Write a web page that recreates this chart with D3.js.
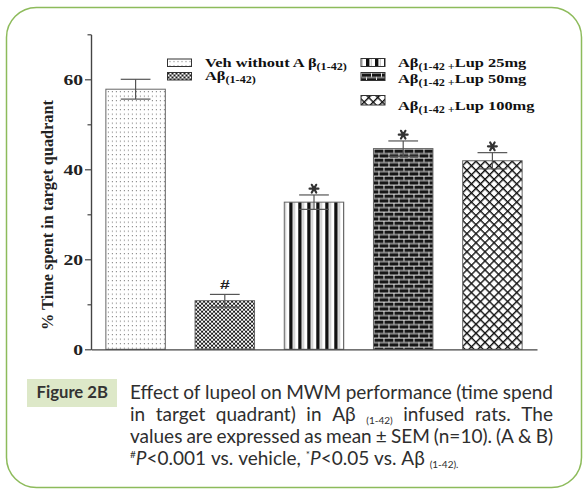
<!DOCTYPE html>
<html><head><meta charset="utf-8">
<script src="https://cdn.jsdelivr.net/npm/d3@7"></script>
<style>body{margin:0;background:#fff}svg{display:block}</style>
</head><body><svg id="c" width="588" height="491"></svg>
<script>
// ---- data ----
const categories = ["Veh without Aβ(1-42)", "Aβ(1-42)", "Aβ(1-42)+Lup 25mg", "Aβ(1-42)+Lup 50mg", "Aβ(1-42)+Lup 100mg"];
const means = [57.8, 10.8, 32.7, 44.6, 41.9];
const sems = [2.2, 1.4, 1.6, 1.7, 1.8];
const sigMarks = ["", "#", "*", "*", "*"];
const majorTicks = [0, 20, 40, 60];
const minorTicks = [10, 30, 50, 70];
const patternTypes = ["dots", "checker", "stripes", "brick", "diamond"];
const legendMain = ["Veh without A\u2009β", "Aβ", "Aβ", "Aβ", "Aβ"];
const legendSub = ["(1-42)", "(1-42)", "(1-42 +", "(1-42 +", "(1-42 +"];
const legendTail = ["", "", "Lup 25mg", "Lup 50mg", "Lup 100mg"];
const yTitle = "% Time spent in target quadrant";
const figLabel = "Figure 2B";
const captionLines = [
  "Effect of lupeol on MWM performance (time spend",
  "in target quadrant) in Aβ _(1-42)_ infused rats. The",
  "values are expressed as mean ± SEM (n=10). (A & B)",
  "^#^~P~<0.001 vs. vehicle, ^*^~P~<0.05 vs. Aβ _(1-42)._"
];
const captionJustify = [true, true, true, false];

// ---- layout ----
const svg = d3.select("#c");
const defs = svg.append("defs");
const serif = "'Liberation Serif','Times New Roman',serif";
const sans = "Lato,'Open Sans',sans-serif";

svg.append("rect").attr("x", 6.5).attr("y", 7.5).attr("width", 575).attr("height", 480)
  .attr("rx", 30).attr("fill", "#fff").attr("stroke", "#8dbb5b").attr("stroke-width", 1.5);

function makePattern(id, type, ox, oy) {
  const p = defs.append("pattern").attr("id", id).attr("patternUnits", "userSpaceOnUse");
  if (type === "dots") {
    p.attr("x", ox + 1).attr("y", oy + 1).attr("width", 4).attr("height", 4.5);
    p.append("rect").attr("width", 4).attr("height", 4.5).attr("fill", "#fff");
    p.append("rect").attr("x", 1).attr("y", 1).attr("width", 1).attr("height", 1).attr("fill", "#6a6a6a");
  } else if (type === "checker") {
    p.attr("x", ox).attr("y", oy).attr("width", 4).attr("height", 4);
    p.append("rect").attr("width", 4).attr("height", 4).attr("fill", "#fff");
    p.append("rect").attr("width", 2).attr("height", 2).attr("fill", "#1a1a1a");
    p.append("rect").attr("x", 2).attr("y", 2).attr("width", 2).attr("height", 2).attr("fill", "#1a1a1a");
  } else if (type === "stripes") {
    p.attr("x", ox).attr("y", oy).attr("width", 9).attr("height", 10);
    p.append("rect").attr("width", 9).attr("height", 10).attr("fill", "#fff");
    p.append("rect").attr("x", 5).attr("width", 3.4).attr("height", 10).attr("fill", "#111");
    p.append("rect").attr("x", 0.8).attr("width", 0.8).attr("height", 10).attr("fill", "#aaa");
  } else if (type === "brick") {
    p.attr("x", ox).attr("y", oy).attr("width", 10).attr("height", 9);
    p.append("rect").attr("width", 10).attr("height", 9).attr("fill", "#161616");
    p.append("rect").attr("y", 0).attr("width", 10).attr("height", 1).attr("fill", "#e6e6e6");
    p.append("rect").attr("y", 4.5).attr("width", 10).attr("height", 1).attr("fill", "#e6e6e6");
    p.append("rect").attr("x", 0).attr("y", 0).attr("width", 1).attr("height", 4.5).attr("fill", "#e6e6e6");
    p.append("rect").attr("x", 5).attr("y", 4.5).attr("width", 1).attr("height", 4.5).attr("fill", "#e6e6e6");
  } else if (type === "diamond") {
    p.attr("x", ox).attr("y", oy).attr("width", 6.4).attr("height", 6.4)
      .attr("patternTransform", "rotate(45)");
    p.append("rect").attr("width", 6.4).attr("height", 6.4).attr("fill", "#fff");
    p.append("rect").attr("width", 1.4).attr("height", 6.4).attr("fill", "#111");
    p.append("rect").attr("width", 6.4).attr("height", 1.4).attr("fill", "#111");
  }
}

const x = d3.scaleBand().domain(categories).range([91, 537]).paddingInner(1 / 3).paddingOuter(1 / 6);
const y = d3.scaleLinear().domain([0, 70]).range([349.3, 34.3]);
const axisColor = "#444";

// bars
categories.forEach((c, i) => makePattern("pb" + i, patternTypes[i], x(c), y(means[i])));
svg.append("g").selectAll("rect").data(categories).join("rect")
  .attr("x", d => x(d)).attr("y", (d, i) => y(means[i]))
  .attr("width", x.bandwidth()).attr("height", (d, i) => y(0) - y(means[i]))
  .attr("fill", (d, i) => `url(#pb${i})`).attr("stroke", "#666").attr("stroke-width", 1);

// error bars
const eb = svg.append("g").attr("stroke", "#555").attr("stroke-width", 1.2).attr("fill", "none");
categories.forEach((c, i) => {
  const cx = x(c) + x.bandwidth() / 2, hw = x.bandwidth() / 4;
  const top = y(means[i] + sems[i]), bot = y(means[i] - sems[i]);
  eb.append("line").attr("x1", cx).attr("x2", cx).attr("y1", top).attr("y2", bot);
  eb.append("line").attr("x1", cx - hw).attr("x2", cx + hw).attr("y1", top).attr("y2", top);
  eb.append("line").attr("x1", cx - hw).attr("x2", cx + hw).attr("y1", bot).attr("y2", bot);
});

// significance marks
categories.forEach((c, i) => {
  const cx = x(c) + x.bandwidth() / 2;
  const top = y(means[i] + sems[i]);
  if (sigMarks[i] === "*") {
    svg.append("path").attr("d", d3.symbol(d3.symbolAsterisk, 55)())
      .attr("transform", `translate(${cx},${top - 6.3}) rotate(90)`)
      .attr("stroke", "#333").attr("stroke-width", 2.2).attr("stroke-linecap", "round").attr("fill", "none");
  } else if (sigMarks[i] === "#") {
    svg.append("text").text("#").attr("text-anchor", "middle")
      .attr("transform", `translate(${cx},${top - 5}) scale(1.35,1)`)
      .attr("font-family", "'Liberation Sans',Arial,sans-serif").attr("font-weight", "bold")
      .attr("font-size", 13).attr("fill", "#222");
  }
});

// axes
const gMinor = svg.append("g").attr("transform", "translate(91,0)")
  .call(d3.axisLeft(y).tickValues(minorTicks).tickSize(3.5).tickSizeOuter(0).tickFormat(""));
const gMajor = svg.append("g").attr("transform", "translate(91,0)")
  .call(d3.axisLeft(y).tickValues(majorTicks).tickSize(6).tickSizeOuter(0).tickFormat(d3.format("d")));
[gMinor, gMajor].forEach(g => { g.selectAll("line,path").attr("stroke", axisColor).attr("stroke-width", 1.2); });
const tsx = 1.4;
gMajor.selectAll("text").attr("font-family", serif).attr("font-weight", "bold").attr("font-size", 14)
  .attr("fill", "#222").attr("dy", null).attr("y", 4.8).attr("x", -8 / tsx)
  .attr("transform", `scale(${tsx},1)`);
const gx = svg.append("g").attr("transform", `translate(0,${y(0)})`)
  .call(d3.axisBottom(x).tickSize(0).tickSizeOuter(0).tickFormat(""));
gx.select("path").attr("stroke", axisColor).attr("stroke-width", 1.2);

// y title
svg.append("text").text(yTitle)
  .attr("transform", "translate(52.5,215) rotate(-90)").attr("text-anchor", "middle")
  .attr("font-family", serif).attr("font-weight", "bold").attr("font-size", 16).attr("fill", "#222")
  .attr("textLength", 230).attr("lengthAdjust", "spacingAndGlyphs");

// legend
const legendBoxes = [[167.5, 59, 24, 7.5], [167.5, 72.5, 24, 7.5], [361, 58.5, 24, 8], [361, 72.5, 24, 8], [361, 95.5, 24, 9.5]];
const legendText = [[205, 66.5], [205, 79.8], [398, 66.5], [398, 83], [398, 110]];
const lg = svg.append("g");
let lsx = 1;
categories.forEach((c, i) => {
  const [bx, by, bw, bh] = legendBoxes[i];
  makePattern("pl" + i, patternTypes[i], bx, by);
  lg.append("rect").attr("x", bx).attr("y", by).attr("width", bw).attr("height", bh)
    .attr("fill", `url(#pl${i})`).attr("stroke", "#333").attr("stroke-width", 1);
  const t = lg.append("text").attr("font-family", serif).attr("font-weight", "bold")
    .attr("font-size", 13.5).attr("fill", "#111");
  t.append("tspan").text(legendMain[i]);
  t.append("tspan").text(legendSub[i]).attr("font-size", 10).attr("dy", 3);
  if (legendTail[i]) t.append("tspan").text(legendTail[i]).attr("dy", -3);
  if (i === 0) lsx = 142 / t.node().getComputedTextLength();
  t.attr("transform", `translate(${legendText[i][0]},${legendText[i][1]}) scale(${lsx},1)`);
});

// caption
svg.append("rect").attr("x", 27).attr("y", 379).attr("width", 90).attr("height", 28).attr("fill", "#dde8c8");
svg.append("text").text(figLabel).attr("x", 36.5).attr("y", 398)
  .attr("font-family", sans).attr("font-weight", "bold").attr("font-size", 17).attr("fill", "#333")
  .attr("textLength", 71.5).attr("lengthAdjust", "spacingAndGlyphs");

function parseWord(w) {
  return (w.match(/(\^[^^]*\^|_[^_]*_|~[^~]*~|[^^_~]+)/g) || []).map(tok => {
    if (tok[0] === "^") return { t: tok.slice(1, -1), s: "sup" };
    if (tok[0] === "_") return { t: tok.slice(1, -1), s: "sub" };
    if (tok[0] === "~") return { t: tok.slice(1, -1), s: "it" };
    return { t: tok, s: "n" };
  });
}
const capSize = 19, capX0 = 130, capX1 = 553, capBase = 399.3, capLead = 22;
const cg = svg.append("g").attr("font-family", sans).attr("font-size", capSize).attr("fill", "#2e2e2e");
const probe = cg.append("text").text("a a");
const probe2 = cg.append("text").text("aa");
const spaceW = probe.node().getComputedTextLength() - probe2.node().getComputedTextLength();
probe.remove(); probe2.remove();
captionLines.forEach((line, li) => {
  const words = line.split(" ");
  const base = capBase + li * capLead;
  const nodes = words.map(w => {
    const t = cg.append("text").attr("y", base);
    let cur = 0;
    parseWord(w).forEach(p => {
      const target = p.s === "sub" ? 2.5 : p.s === "sup" ? -7 : 0;
      const ts = t.append("tspan").text(p.t).attr("dy", target - cur);
      cur = target;
      if (p.s === "sub" || p.s === "sup") ts.attr("font-size", 10);
      if (p.s === "it") ts.attr("font-style", "italic");
    });
    return t;
  });
  const widths = nodes.map(n => n.node().getComputedTextLength());
  const total = d3.sum(widths);
  const gap = captionJustify[li] ? (capX1 - capX0 - total) / (words.length - 1) : spaceW;
  let cx = capX0;
  nodes.forEach((n, k) => { n.attr("x", cx); cx += widths[k] + gap; });
});
</script></body></html>
